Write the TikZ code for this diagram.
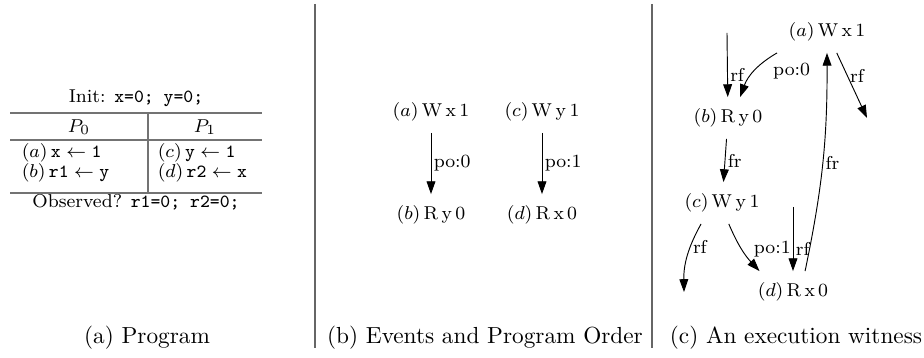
\documentclass[tikz,border=0pt]{standalone}
\usepackage{amsmath}
\usepackage{tikz}
\usetikzlibrary{arrows.meta}

\begin{document}
\begin{tikzpicture}[x=0.43pt, y=-0.43pt, >={Triangle[length=5.5pt,width=3.8pt]},
  ev/.style={inner sep=4.8pt, font=\footnotesize},
  lbl/.style={inner sep=1pt, font=\footnotesize},
  rule/.style={draw=black!55, line width=0.6pt},
  sep/.style={draw=black!60, line width=0.7pt}]
\useasboundingbox (0,0) rectangle (924,358);

\node[lbl] (init) at (136,98) {Init: \texttt{x=0; y=0;}};
\node[lbl] (p0) at (79,127) {$P_0$};
\node[lbl] (p1) at (205,127) {$P_1$};
\node[lbl, anchor=west] (ia) at (19,153) {$(a)\,\texttt{x} \leftarrow \texttt{1}$};
\node[lbl, anchor=west] (ib) at (19,173) {$(b)\,\texttt{r1} \leftarrow \texttt{y}$};
\node[lbl, anchor=west] (ic) at (155,153) {$(c)\,\texttt{y} \leftarrow \texttt{1}$};
\node[lbl, anchor=west] (id) at (155,173) {$(d)\,\texttt{r2} \leftarrow \texttt{x}$};
\node[lbl] (obs) at (136,202) {Observed? \texttt{r1=0; r2=0;}};
\draw[rule] (10,113) -- (262,113) (10,140) -- (262,140) (10,193) -- (262,193);
\draw[rule] (148,113) -- (148,193);

\node[ev] (a2) at (431,112) {$(a)\,\mathrm{W\,x\,1}$};
\node[ev] (c2) at (542,112) {$(c)\,\mathrm{W\,y\,1}$};
\node[ev] (b2) at (431,215) {$(b)\,\mathrm{R\,y\,0}$};
\node[ev] (d2) at (542,215) {$(d)\,\mathrm{R\,x\,0}$};
\draw[->] (a2) -- node[lbl, right]{po:0} (b2);
\draw[->] (c2) -- node[lbl, right]{po:1} (d2);

\node[ev] (a3) at (827,32) {$(a)\,\mathrm{W\,x\,1}$};
\node[ev] (b3) at (728,118) {$(b)\,\mathrm{R\,y\,0}$};
\node[ev] (c3) at (722,203) {$(c)\,\mathrm{W\,y\,1}$};
\node[ev] (d3) at (793,292) {$(d)\,\mathrm{R\,x\,0}$};
\coordinate (rfb) at (727,33);
\coordinate (rfa) at (867,118);
\coordinate (rfc) at (684,292);
\coordinate (rfd) at (793,207);
\path[->] (rfb) edge node[lbl, pos=.65, right]{rf} (b3)
  (a3.south west) edge[bend right=20] node[lbl, pos=.5, right=7pt]{po:0} (b3.60)
  (a3.-65) edge node[lbl, pos=.35, right]{rf} (rfa)
  (b3) edge node[lbl, right]{fr} (c3)
  (d3.60) edge[bend right=6] node[lbl, pos=.5, right]{fr} (a3.south)
  (c3.225) edge[bend right=15] node[lbl, pos=.35, right]{rf} (rfc)
  (c3.288) edge[bend right=10] node[lbl, pos=.5, right=4pt]{po:1} (d3.148)
  (rfd) edge node[lbl, pos=.65, right]{rf} (d3);

\draw[sep] (315,4) -- (315,348);
\draw[sep] (652,4) -- (652,348);
\node (capa) at (147,338) {(a) Program};
\node (capb) at (485,338) {(b) Events and Program Order};
\node (capc) at (796,338) {(c) An execution witness};
\end{tikzpicture}
\end{document}
